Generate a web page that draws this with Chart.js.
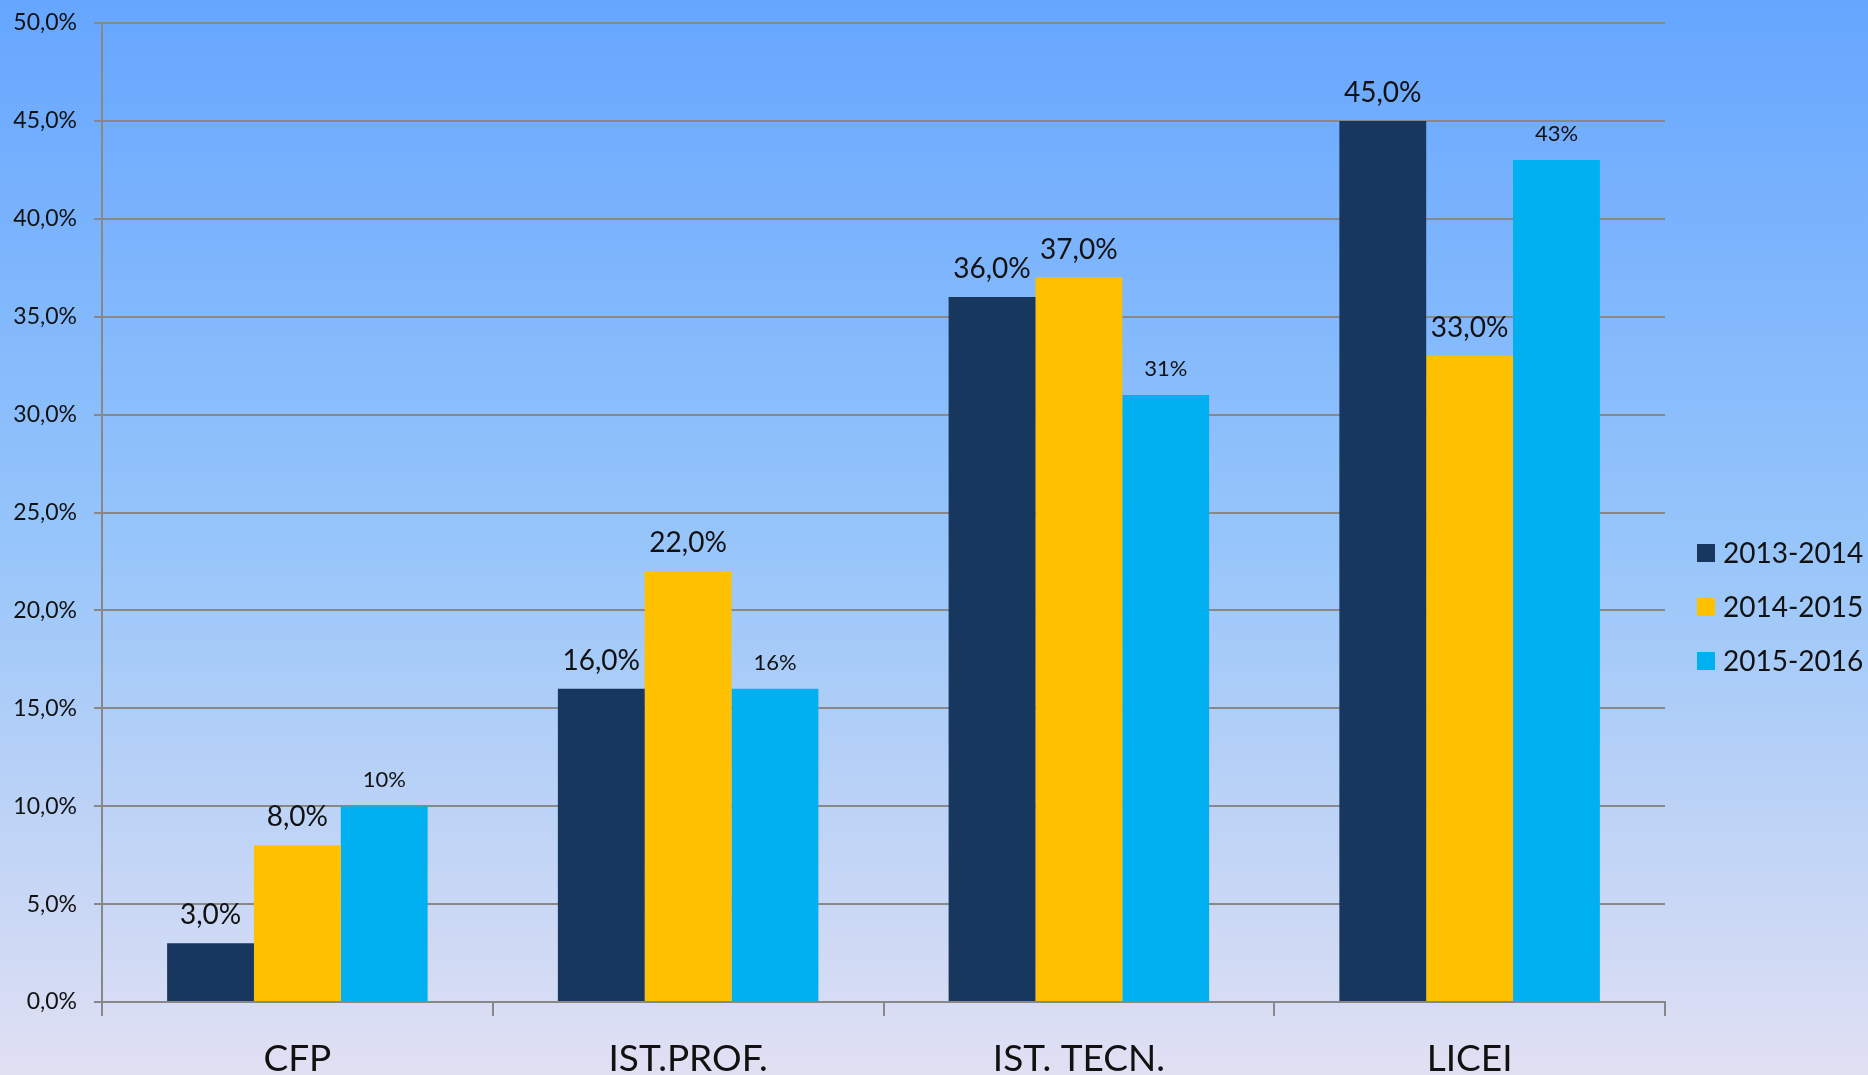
<!DOCTYPE html>
<html>
<head>
<meta charset="utf-8">
<script src="https://cdn.jsdelivr.net/npm/chart.js@4"></script>
<style>
  html, body { margin: 0; padding: 0; background: #e0e0f2; }
  #wrap { width: 1868px; height: 1075px; position: relative; }
  canvas { display: block; }
</style>
</head>
<body>
<div id="wrap"><canvas id="c" width="1868" height="1075"></canvas></div>
<script>
const categories = ['CFP', 'IST.PROF.', 'IST. TECN.', 'LICEI'];
const seriesNames = ['2013-2014', '2014-2015', '2015-2016'];
const values2013 = [3, 16, 36, 45];
const values2014 = [8, 22, 37, 33];
const values2015 = [10, 16, 31, 43];
const seriesColors = ['#17375E', '#FFC000', '#00B0F0'];
const yTicksMin = 0, yTicksMax = 50, yTicksStep = 5;

const FONT = 'Lato, "Open Sans", sans-serif';
const TEXT = '#111111';

function fmtComma(v) { return v.toFixed(1).replace('.', ',') + '%'; }
function fmtInt(v) { return Math.round(v) + '%'; }

const bgPlugin = {
  id: 'bg',
  beforeDraw(chart) {
    const ctx = chart.ctx;
    const g = ctx.createLinearGradient(0, 0, 0, chart.height);
    g.addColorStop(0, '#66A6FF');
    g.addColorStop(0.5, '#96C5FA');
    g.addColorStop(1, '#E1E0F3');
    ctx.save();
    ctx.fillStyle = g;
    ctx.fillRect(0, 0, chart.width, chart.height);
    ctx.restore();
  }
};

const labelPlugin = {
  id: 'barLabels',
  afterDatasetsDraw(chart) {
    const ctx = chart.ctx;
    ctx.save();
    ctx.fillStyle = TEXT;
    ctx.textAlign = 'center';
    ctx.textBaseline = 'alphabetic';
    chart.data.datasets.forEach((ds, di) => {
      const meta = chart.getDatasetMeta(di);
      const big = di < 2;
      ctx.font = (big ? '28px ' : '22px ') + FONT;
      meta.data.forEach((el, i) => {
        const v = ds.data[i];
        const txt = big ? fmtComma(v) : fmtInt(v);
        ctx.fillText(txt, el.x, el.y - 19);
      });
    });
    ctx.restore();
  }
};

const legendPlugin = {
  id: 'customLegend',
  afterDraw(chart) {
    const ctx = chart.ctx;
    ctx.save();
    ctx.font = '28px ' + FONT;
    ctx.textAlign = 'left';
    ctx.textBaseline = 'middle';
    const x0 = chart.chartArea.right + 32;
    const yMid = 607;
    const gap = 54;
    chart.data.datasets.forEach((ds, i) => {
      const y = yMid + (i - 1) * gap;
      ctx.fillStyle = ds.backgroundColor;
      ctx.fillRect(x0, y - 9, 18, 18);
      ctx.fillStyle = TEXT;
      ctx.fillText(ds.label, x0 + 26, y + 1);
    });
    ctx.restore();
  }
};

const datasets = [values2013, values2014, values2015].map((vals, i) => ({
  label: seriesNames[i],
  data: vals,
  backgroundColor: seriesColors[i],
  borderWidth: 0,
  barPercentage: 1.0,
  categoryPercentage: 0.6667
}));

new Chart(document.getElementById('c'), {
  type: 'bar',
  data: { labels: categories, datasets },
  plugins: [bgPlugin, labelPlugin, legendPlugin],
  options: {
    responsive: false,
    animation: false,
    devicePixelRatio: 1,
    layout: { padding: { top: 23, right: 203, bottom: 0, left: 0 } },
    plugins: { legend: { display: false }, tooltip: { enabled: false } },
    scales: {
      x: {
        grid: { offset: true, drawOnChartArea: false, drawTicks: true, tickLength: 14, color: '#888888', lineWidth: 2 },
        border: { display: true, color: '#888888', width: 2 },
        ticks: { color: TEXT, font: { family: FONT, size: 37 }, padding: 21, maxRotation: 0 },
        afterFit(scale) { scale.height = 73; }
      },
      y: {
        min: yTicksMin, max: yTicksMax,
        grid: { color: '#888888', lineWidth: 2, tickLength: 8, drawTicks: true },
        border: { display: true, color: '#888888', width: 2 },
        ticks: { stepSize: yTicksStep, color: TEXT, font: { family: FONT, size: 23, lineHeight: 0.4 }, padding: 17,
                 callback: (v) => fmtComma(v) },
        afterFit(scale) { scale.width = 102; }
      }
    }
  }
});
</script>
</body>
</html>
